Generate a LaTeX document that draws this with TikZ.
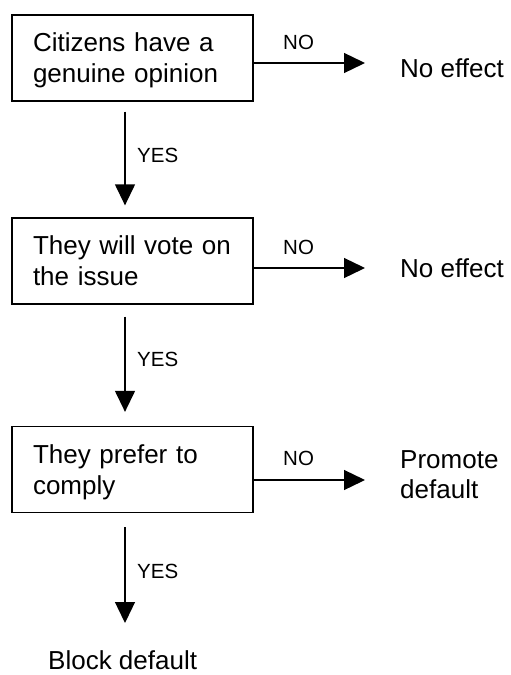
\documentclass[tikz,border=0pt]{standalone}
\usepackage{fontspec}
\setmainfont{Liberation Sans}
\usetikzlibrary{arrows.meta}
\begin{document}
\begin{tikzpicture}[x=1pt,y=-1pt,
  box/.style={draw, line width=1.3pt, minimum width=241pt, minimum height=86pt,
    inner xsep=21pt, inner ysep=0pt, text width=199pt, align=left,
    font=\fontsize{26}{31}\selectfont, text height=18.6pt, text depth=31pt},
  outcome/.style={inner sep=0pt, anchor=base west, font=\fontsize{26}{30}\selectfont},
  lbl/.style={inner sep=0pt, anchor=base west, font=\fontsize{20.5}{24}\selectfont},
  arr/.style={line width=1.3pt, -{Triangle[length=21pt,width=20pt]}}]
\useasboundingbox (0,0) rectangle (511,675);
% boxes
\node[box] (b1) at (132.5,58) {Citizens have a\\genuine opinion};
\node[box] (b2) at (132.5,261) {They will vote on\\the issue};
\node[box] (b3) at (132.5,469.5) {They prefer to\\comply};
% outcomes
\node[outcome] (o1) at (400,77) {No effect};
\node[outcome] (o2) at (400,277) {No effect};
\node[outcome, align=left] (o3) at (400,498) {Promote\\default};
\node[outcome] (o4) at (48,669.5) {Block default};
% arrow end coordinates
\coordinate (e1) at (365,63);
\coordinate (e2) at (365,268);
\coordinate (e3) at (365,480);
\coordinate (t3) at (125,623);
% horizontal NO arrows
\draw[arr] (b1.east |- e1) -- (e1);
\draw[arr] (b2.east |- e2) -- (e2);
\draw[arr] (b3.east |- e3) -- (e3);
% vertical YES arrows
\draw[arr] ([xshift=-7.5pt,yshift=-10pt]b1.south) -- ([xshift=-7.5pt,yshift=12pt]b2.north);
\draw[arr] ([xshift=-7.5pt,yshift=-12pt]b2.south) -- ([xshift=-7.5pt,yshift=14pt]b3.north);
\draw[arr] ([xshift=-7.5pt,yshift=-14pt]b3.south) -- (t3);
% labels
\node[lbl] (n1) at (283,49) {NO};
\node[lbl] (n2) at (283,254) {NO};
\node[lbl] (n3) at (283,465) {NO};
\node[lbl] (y1) at (137,162) {YES};
\node[lbl] (y2) at (137,366) {YES};
\node[lbl] (y3) at (137,578) {YES};
\end{tikzpicture}
\end{document}
